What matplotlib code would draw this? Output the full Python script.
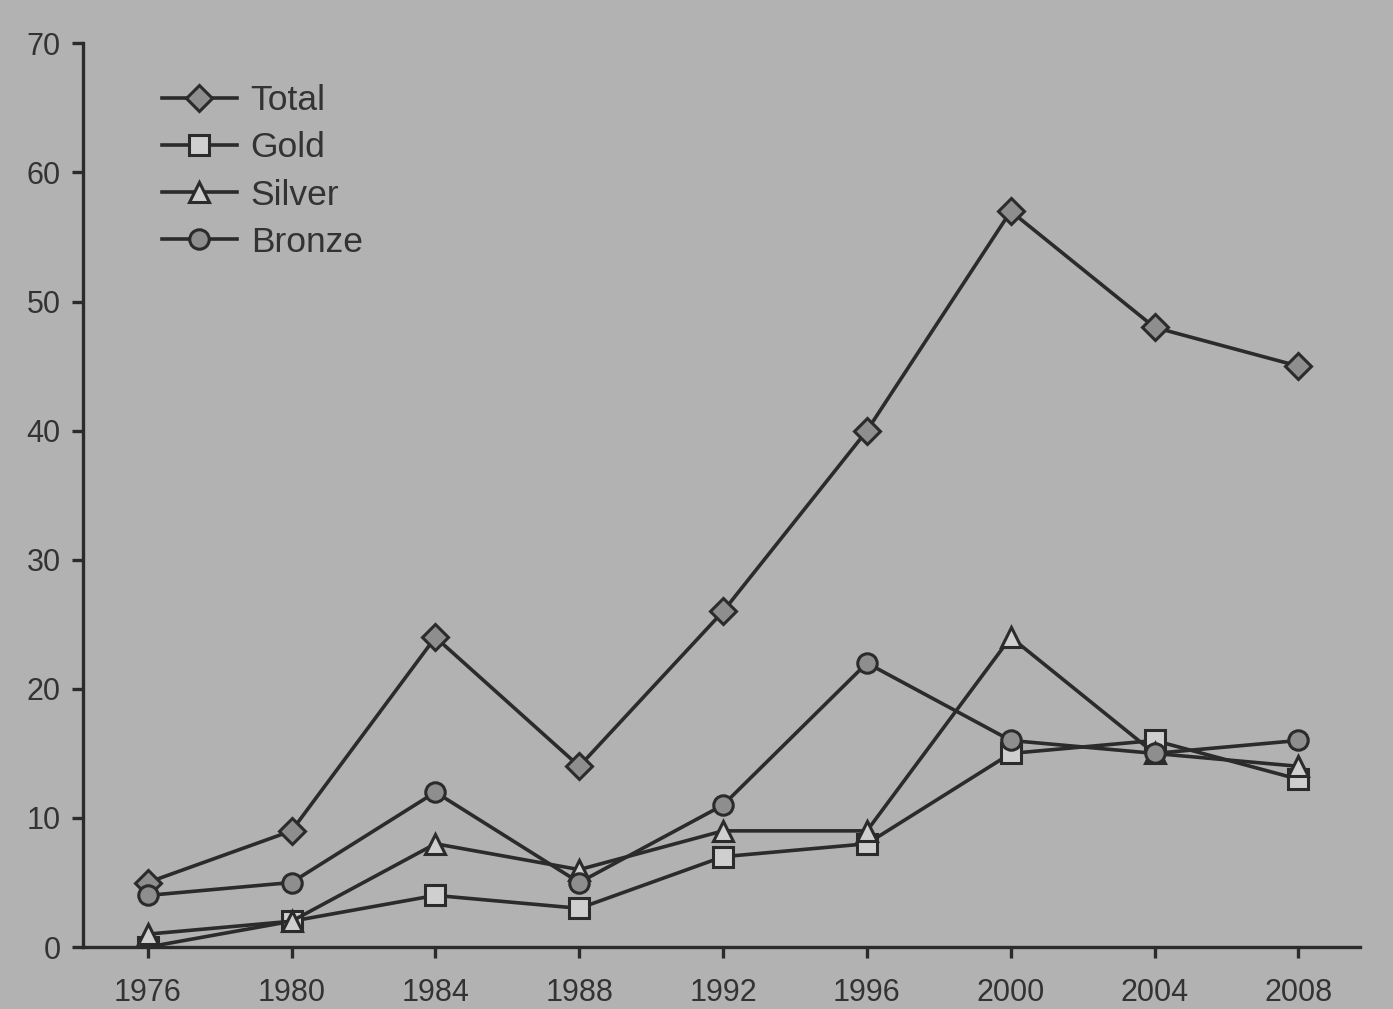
import numpy as np
import matplotlib.pyplot as plt

# medal counts per games
years = [1976, 1980, 1984, 1988, 1992, 1996, 2000, 2004, 2008]
total = [5, 9, 24, 14, 26, 40, 57, 48, 45]
gold = [0, 2, 4, 3, 7, 8, 15, 16, 13]
silver = [1, 2, 8, 6, 9, 9, 24, 15, 14]
bronze = [4, 5, 12, 5, 11, 22, 16, 15, 16]

bg = '#b2b2b2'
ink = '#2b2b2b'

plt.rcParams['font.family'] = ['Liberation Sans', 'DejaVu Sans']

fig = plt.figure(figsize=(13.93, 10.09), dpi=100, facecolor=bg)
ax = fig.add_axes([0.0596, 0.0614, 0.9164, 0.8956], facecolor=bg)

style = dict(color=ink, lw=2.6, markeredgewidth=2.2, markeredgecolor=ink)
ax.plot(years, total, marker='D', markersize=13, markerfacecolor='#8e8e8e', label='Total', **style)
ax.plot(years, gold, marker='s', markersize=14, markerfacecolor='#cfcfcf', label='Gold', **style)
ax.plot(years, silver, marker='^', markersize=14, markerfacecolor='#cfcfcf', label='Silver', **style)
ax.plot(years, bronze, marker='o', markersize=14, markerfacecolor='#8e8e8e', label='Bronze', **style)

ax.set_xlim(1974.2, 2009.7)
ax.set_ylim(0, 70)
ax.set_xticks(years)
ax.set_yticks(np.arange(0, 71, 10))

for s in ['top', 'right']:
    ax.spines[s].set_visible(False)
for s in ['left', 'bottom']:
    ax.spines[s].set_color(ink)
    ax.spines[s].set_linewidth(2.4)
ax.tick_params(direction='out', length=8, width=2.4, color=ink, labelcolor='#333333', labelsize=22)
ax.tick_params(axis='x', pad=14)
ax.tick_params(axis='y', pad=8)

leg = ax.legend(loc='upper left', bbox_to_anchor=(0.037, 0.99), frameon=False,
                fontsize=25.5, handlelength=2.1, handletextpad=0.4, labelspacing=0.40,
                labelcolor='#333333')

fig.savefig('out.png', dpi=100, facecolor=bg)
